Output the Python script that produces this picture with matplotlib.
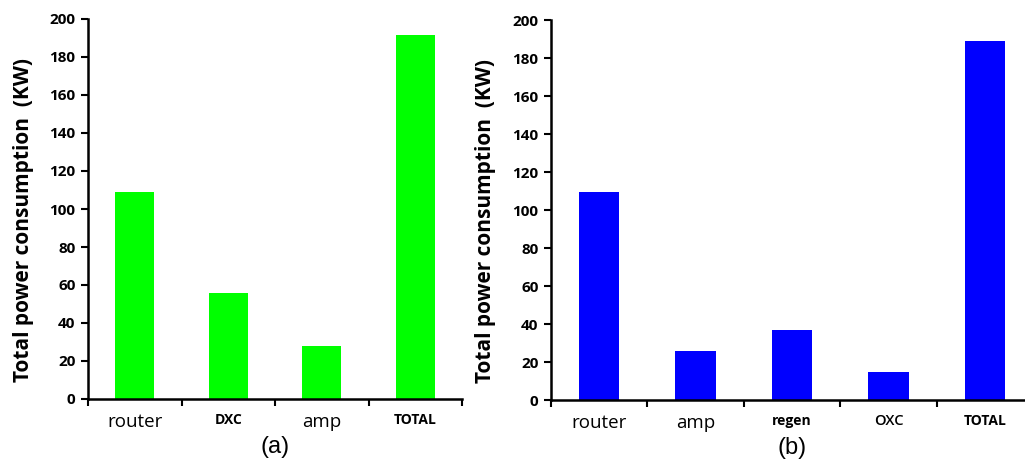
import matplotlib
matplotlib.use('Agg')
import matplotlib.pyplot as plt
import numpy as np

# panel (a)
cats_a = ['router', 'DXC', 'amp', 'TOTAL']
vals_a = [109, 56, 28, 191.5]
style_a = ['regular', 'bold', 'regular', 'bold']

# panel (b)
cats_b = ['router', 'amp', 'regen', 'OXC', 'TOTAL']
vals_b = [109.5, 25.8, 37, 15, 189]
style_b = ['regular', 'regular', 'bold', 'small', 'bold']

yticks = list(range(0, 201, 20))
ylabel = 'Total power consumption  (KW)'

FONT = 'Open Sans'


def draw_panel(ax, cats, vals, styles, color, tag):
    n = len(cats)
    x = np.arange(n) + 0.5
    ax.bar(x, vals, width=0.42, color=color, zorder=1)
    ax.set_xlim(0, n)
    ax.set_ylim(0, 200)
    for s in ['top', 'right']:
        ax.spines[s].set_visible(False)
    for s in ['left', 'bottom']:
        ax.spines[s].set_linewidth(1.8)
        ax.spines[s].set_zorder(3)
    ax.set_yticks(yticks)
    ax.set_yticklabels([str(v) for v in yticks], fontsize=11,
                       fontweight='bold', family=FONT)
    ax.tick_params(axis='y', direction='out', length=5, width=1.5, pad=4)
    ax.set_xticks(np.arange(n + 1))
    ax.set_xticklabels([])
    ax.tick_params(axis='x', which='major', direction='out', length=5, width=1.5)
    ax.set_xticks(x, minor=True)
    ax.tick_params(axis='x', which='minor', length=0, pad=10)
    ax.set_xticklabels(cats, minor=True)
    for lab, st in zip(ax.get_xticklabels(minor=True), styles):
        lab.set_family(FONT)
        if st == 'bold':
            lab.set_fontweight('bold')
            lab.set_fontsize(10)
        elif st == 'small':
            lab.set_fontweight('semibold')
            lab.set_fontsize(10.5)
        else:
            lab.set_fontsize(13.5)
    ax.set_ylabel(ylabel, fontsize=15, fontweight='bold', family=FONT)
    ax.yaxis.set_label_coords(-0.145 if n == 4 else -0.115, 0.47)
    ax.text(0.5, -0.125, tag, transform=ax.transAxes, ha='center', va='center',
            fontsize=17, family='Liberation Sans')


fig = plt.figure(figsize=(10.25, 4.61), dpi=100)
ax1 = fig.add_axes([88 / 1025, 1 - 399 / 461, 374 / 1025, 380 / 461])
ax2 = fig.add_axes([551 / 1025, 1 - 400 / 461, 482 / 1025, 380 / 461])

draw_panel(ax1, cats_a, vals_a, style_a, '#00ff00', '(a)')
draw_panel(ax2, cats_b, vals_b, style_b, '#0000ff', '(b)')

fig.savefig('out.png', dpi=100)
